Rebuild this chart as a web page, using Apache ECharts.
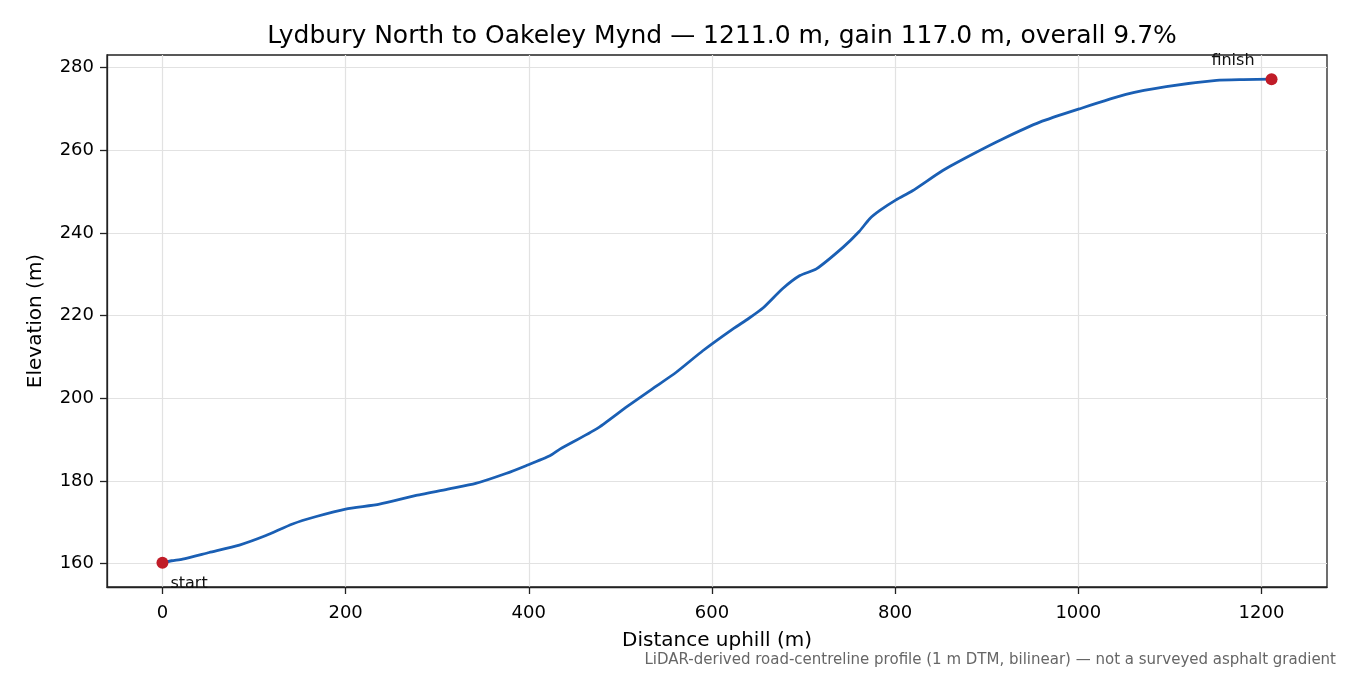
<!DOCTYPE html>
<html>
<head>
<meta charset="utf-8">
<script src="https://cdn.jsdelivr.net/npm/echarts@6/dist/echarts.min.js"></script>
<style>
  html, body { margin: 0; padding: 0; background: #fff; }
  #chart { width: 1350px; height: 675px; }
</style>
</head>
<body>
<div id="chart"></div>
<script>
// profile: distance uphill (m) and elevation (m)
const distance = [0, 10, 22, 51, 84, 113, 142, 168, 200, 237, 277, 313, 342, 375, 397, 423,
  434, 474, 506, 535, 561, 590, 623, 640, 656, 677, 696, 714, 743, 761, 772, 783, 801,
  819, 852, 885, 918, 958, 1001, 1052, 1096, 1151, 1180, 1211];
const elevation = [160.2, 160.7, 161.1, 162.7, 164.5, 166.8, 169.6, 171.4, 173.2, 174.4, 176.5, 178.1, 179.4, 181.8, 183.7, 186.1,
  187.7, 192.6, 197.8, 202.3, 206.3, 211.5, 216.8, 219.3, 221.9, 226.5, 229.7, 231.3, 236.5, 240.4, 243.4, 245.4, 248.0,
  250.2, 255.1, 259.1, 262.8, 266.8, 270.0, 273.5, 275.4, 276.9, 277.1, 277.2];
const endpoints = [['start', 0, 160.2], ['finish', 1211, 277.2]];
const xTicks = [0, 200, 400, 600, 800, 1000, 1200];
const yTicks = [160, 180, 200, 220, 240, 260, 280];

const font = 'DejaVu Sans';
const profile = distance.map((d, i) => [d, elevation[i]]);

// matplotlib style 5% margins
const xSpan = distance[distance.length - 1] - distance[0];
const ySpan = Math.max(...elevation) - Math.min(...elevation);

const chart = echarts.init(document.getElementById('chart'), null, { renderer: 'canvas' });

const tickStyle = { show: true, length: 7, inside: false, lineStyle: { color: '#222', width: 1.3 } };

chart.setOption({
  animation: false,
  backgroundColor: '#ffffff',
  title: {
    text: 'Lydbury North to Oakeley Mynd — 1211.0 m, gain 117.0 m, overall 9.7%',
    left: 717, top: 19, textAlign: 'center',
    textStyle: { fontFamily: font, fontSize: 25, fontWeight: 'normal', color: '#000' }
  },
  graphic: [{
    type: 'text', right: 14, top: 653,
    style: {
      text: 'LiDAR-derived road-centreline profile (1 m DTM, bilinear) — not a surveyed asphalt gradient',
      fontFamily: font, fontSize: 15, fill: '#666'
    }
  }],
  grid: {
    left: 107, right: 23, top: 55, bottom: 88,
    show: true, borderColor: '#222', borderWidth: 1.3, backgroundColor: 'transparent'
  },
  xAxis: {
    type: 'value',
    min: distance[0] - xSpan * 0.05,
    max: distance[distance.length - 1] + xSpan * 0.05,
    name: 'Distance uphill (m)', nameLocation: 'middle', nameGap: 44,
    nameTextStyle: { fontFamily: font, fontSize: 20, color: '#000' },
    axisLine: { show: true, onZero: false, lineStyle: { color: '#222', width: 1.3 } },
    axisTick: Object.assign({ customValues: xTicks }, tickStyle),
    axisLabel: { customValues: xTicks, formatter: v => String(v), fontFamily: font, fontSize: 18, color: '#000', margin: 17 },
    splitLine: { show: true, lineStyle: { color: '#e2e2e2', width: 1.2 } }
  },
  yAxis: {
    type: 'value',
    min: Math.min(...elevation) - ySpan * 0.05,
    max: Math.max(...elevation) + ySpan * 0.05,
    name: 'Elevation (m)', nameLocation: 'middle', nameGap: 61, nameRotate: 90,
    nameTextStyle: { fontFamily: font, fontSize: 20, color: '#000' },
    axisLine: { show: true, onZero: false, lineStyle: { color: '#222', width: 1.3 } },
    axisTick: Object.assign({ customValues: yTicks }, tickStyle),
    axisLabel: { customValues: yTicks, formatter: v => String(v), fontFamily: font, fontSize: 18, color: '#000', margin: 13 },
    splitLine: { show: true, lineStyle: { color: '#e2e2e2', width: 1.2 } }
  },
  series: [
    {
      type: 'line', data: profile, showSymbol: false, smooth: 0.2,
      lineStyle: { color: '#1a5fb4', width: 2.8 }, z: 2
    },
    {
      type: 'scatter', symbolSize: 12, z: 3,
      itemStyle: { color: '#c01c28', opacity: 1 },
      data: endpoints.map(([name, d, e]) => ({
        name, value: [d, e],
        label: {
          show: true, formatter: name, fontFamily: font, fontSize: 16, color: '#111',
          position: name === 'start' ? 'right' : 'left',
          offset: name === 'start' ? [-3, 21] : [-6, -18]
        }
      }))
    }
  ]
});
</script>
</body>
</html>
